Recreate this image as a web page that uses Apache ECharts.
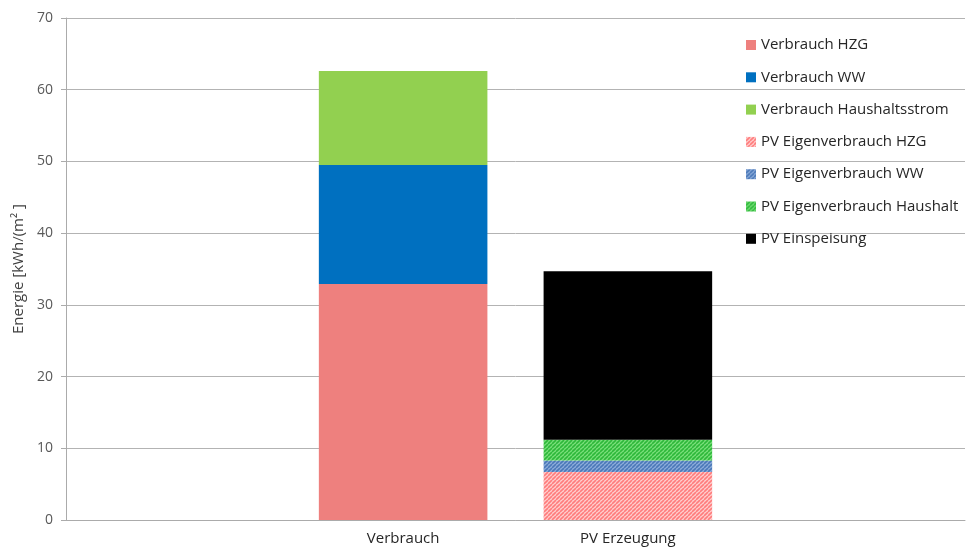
<!DOCTYPE html>
<html>
<head>
<meta charset="utf-8">
<script src="https://cdn.jsdelivr.net/npm/echarts@6/dist/echarts.min.js"></script>
<style>html,body{margin:0;padding:0;background:#fff}#c{width:967px;height:547px}</style>
</head>
<body>
<div id="c"></div>
<script>
const categories = ['', 'Verbrauch', 'PV Erzeugung', ''];
const yTicks = [0, 10, 20, 30, 40, 50, 60, 70];
const seriesNames = ['Verbrauch HZG', 'Verbrauch WW', 'Verbrauch Haushaltsstrom', 'PV Eigenverbrauch HZG', 'PV Eigenverbrauch WW', 'PV Eigenverbrauch Haushalt', 'PV Einspeisung'];
const verbrauchHZG = [null, 32.9, null, null];
const verbrauchWW = [null, 16.6, null, null];
const verbrauchHaushalt = [null, 13.1, null, null];
const pvHZG = [null, null, 6.7, null];
const pvWW = [null, null, 1.6, null];
const pvHaushalt = [null, null, 2.9, null];
const pvEinspeisung = [null, null, 23.5, null];

function hatch(bg, fg, dir) {
  const c = document.createElement('canvas');
  c.width = 4; c.height = 4;
  const g = c.getContext('2d');
  g.fillStyle = bg; g.fillRect(0, 0, 4, 4);
  g.strokeStyle = fg; g.lineWidth = 1.6;
  for (let k = -2; k <= 2; k++) {
    g.beginPath();
    if (dir > 0) { g.moveTo(k * 4, 4); g.lineTo(k * 4 + 4, 0); }
    else { g.moveTo(k * 4, 0); g.lineTo(k * 4 + 4, 4); }
    g.stroke();
  }
  return { image: c, repeat: 'repeat' };
}

const colors = [
  '#EE807E', '#0070C0', '#92D050',
  hatch('#FFD0D0', '#FF7C7C', 1),
  hatch('#8FAEDB', '#4A78B8', 1),
  hatch('#7BE07B', '#2DB83A', 1),
  '#000000'
];
const datas = [verbrauchHZG, verbrauchWW, verbrauchHaushalt, pvHZG, pvWW, pvHaushalt, pvEinspeisung];

const chart = echarts.init(document.getElementById('c'), null, { renderer: 'canvas' });
chart.setOption({
  animation: false,
  textStyle: { fontFamily: 'Open Sans' },
  grid: { left: 66, right: 2, top: 18, bottom: 27, containLabel: false },
  legend: {
    orient: 'vertical', left: 741, top: 32,
    itemWidth: 10, itemHeight: 10, itemGap: 16.3,
    icon: 'rect',
    textStyle: { fontSize: 15, color: '#262626', lineHeight: 16 },
    data: seriesNames
  },
  xAxis: {
    type: 'category', data: categories,
    axisLine: { lineStyle: { color: '#ABABAB', width: 1 } },
    axisTick: { show: false },
    axisLabel: { fontSize: 15, color: '#262626', margin: 11, interval: 0 }
  },
  yAxis: {
    type: 'value', min: 0, max: 70, interval: 10,
    name: 'Energie [kWh/(m² ]', nameLocation: 'middle', nameGap: 39,
    nameTextStyle: { fontSize: 15, color: '#404040' },
    axisLine: { show: true, lineStyle: { color: '#ABABAB' } },
    axisTick: { show: true, length: 5, lineStyle: { color: '#ABABAB' } },
    axisLabel: { fontSize: 14, color: '#595959', margin: 13,
      formatter: v => yTicks.includes(v) ? String(v) : '' },
    splitLine: { lineStyle: { color: '#B3B3B3' } }
  },
  series: seriesNames.map((n, i) => ({
    name: n, type: 'bar', stack: 'total', barWidth: '75%',
    data: datas[i],
    itemStyle: { color: colors[i] }
  }))
});
</script>
</body>
</html>
